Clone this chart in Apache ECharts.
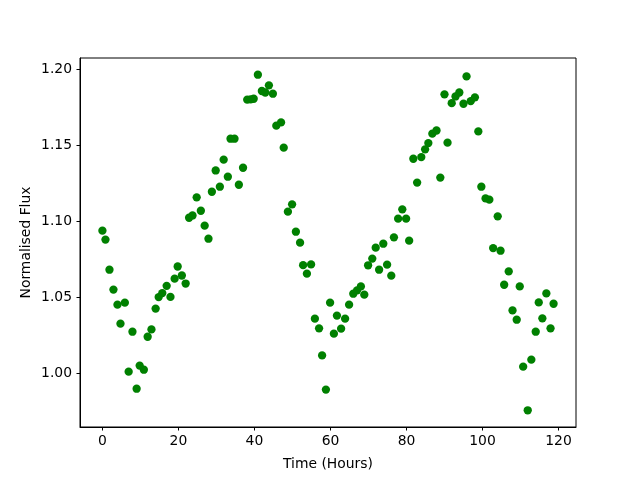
<!DOCTYPE html>
<html>
<head>
<meta charset="utf-8">
<script src="https://cdn.jsdelivr.net/npm/echarts@6/dist/echarts.min.js"></script>
<style>
  html, body { margin: 0; padding: 0; background: #fff; }
  #chart { width: 640px; height: 480px; }
</style>
</head>
<body>
<div id="chart"></div>
<script>
// time of each sample (hours)
var timeHours = [
    0, 0.8, 1.85, 2.9, 3.96, 4.75, 5.9, 6.9, 7.9, 9.0,
    9.8, 10.9, 11.9, 12.9, 14.0, 14.8, 15.75, 16.9, 17.9, 19.0,
    19.8, 20.9, 21.9, 22.8, 23.7, 24.8, 25.9, 26.9, 27.9, 28.8,
    29.8, 30.9, 31.9, 33.0, 33.7, 34.75, 35.9, 37.0, 38.1, 39.0,
    39.8, 40.9, 41.95, 42.85, 43.8, 44.85, 45.75, 47.0, 47.7, 48.8,
    49.9, 50.9, 52.0, 52.8, 53.8, 54.9, 55.9, 57.0, 57.8, 58.8,
    59.9, 60.9, 61.7, 62.8, 63.85, 64.9, 66.0, 67.0, 68.0, 68.9,
    69.9, 71.0, 71.9, 72.8, 73.9, 74.9, 76.0, 76.7, 77.8, 78.9,
    79.9, 80.7, 81.8, 82.8, 83.9, 84.9, 85.75, 86.8, 87.9, 88.9,
    90.0, 90.8, 91.9, 92.9, 93.9, 95.0, 95.8, 96.9, 98.0, 98.9,
    99.7, 100.8, 101.8, 102.8, 104.0, 104.75, 105.7, 106.9, 107.9, 109.0,
    109.8, 110.7, 111.9, 112.85, 114.0, 114.8, 115.75, 116.8, 117.9, 118.7
];
// normalised flux for each sample
var flux = [
    1.0941, 1.0882, 1.0684, 1.0553, 1.0454, 1.0329, 1.0467, 1.0013, 1.0276, 0.9901,
    1.0053, 1.0026, 1.0243, 1.0291, 1.0428, 1.0504, 1.0530, 1.0578, 1.0505, 1.0625,
    1.0705, 1.0646, 1.0593, 1.1026, 1.1041, 1.1160, 1.1072, 1.0974, 1.0888, 1.1197,
    1.1337, 1.1230, 1.1408, 1.1296, 1.1546, 1.1546, 1.1243, 1.1355, 1.1803, 1.1805,
    1.1809, 1.1967, 1.1860, 1.1850, 1.1897, 1.1842, 1.1632, 1.1653, 1.1487, 1.1066,
    1.1114, 1.0934, 1.0862, 1.0714, 1.0658, 1.0719, 1.0362, 1.0298, 1.0120, 0.9895,
    1.0467, 1.0263, 1.0382, 1.0296, 1.0362, 1.0454, 1.0526, 1.0548, 1.0574, 1.0520,
    1.0713, 1.0757, 1.0829, 1.0684, 1.0855, 1.0717, 1.0645, 1.0897, 1.1020, 1.1081,
    1.1020, 1.0875, 1.1414, 1.1257, 1.1425, 1.1476, 1.1517, 1.1579, 1.1600, 1.1290,
    1.1838, 1.1520, 1.1780, 1.1824, 1.1850, 1.1776, 1.1956, 1.1793, 1.1818, 1.1594,
    1.1230, 1.1153, 1.1145, 1.0826, 1.1035, 1.0809, 1.0585, 1.0673, 1.0416, 1.0355,
    1.0574, 1.0046, 0.9759, 1.0092, 1.0276, 1.0469, 1.0364, 1.0528, 1.0298, 1.0460
];
var xTicks = [0, 20, 40, 60, 80, 100, 120];
var yTicks = [1.00, 1.05, 1.10, 1.15, 1.20];

var points = [];
for (var i = 0; i < timeHours.length; i++) {
    points.push([timeHours[i], flux[i]]);
}

var font = 'DejaVu Sans';
var myChart = echarts.init(document.getElementById('chart'), null, {renderer: 'canvas'});
myChart.setOption({
    animation: false,
    backgroundColor: '#fff',
    grid: {
        left: 80, right: 64, top: 58, bottom: 53,
        show: true, borderColor: '#000', borderWidth: 1
    },
    xAxis: {
        type: 'value',
        min: -5.9, max: 124.6,
        name: 'Time (Hours)',
        nameLocation: 'middle',
        nameGap: 30,
        nameMoveOverlap: false,
        nameTextStyle: {fontFamily: font, fontSize: 13.9, color: '#000'},
        axisLine: {show: true, onZero: false, lineStyle: {color: '#000', width: 1}},
        axisTick: {show: true, length: 3.5, lineStyle: {color: '#000'}, customValues: xTicks},
        axisLabel: {fontFamily: font, fontSize: 13.9, color: '#000', margin: 7,
            customValues: xTicks, formatter: function (v) { return String(v); }},
        splitLine: {show: false}
    },
    yAxis: {
        type: 'value',
        min: 0.9649, max: 1.2077,
        name: 'Normalised Flux',
        nameLocation: 'middle',
        nameRotate: 90,
        nameGap: 47,
        nameMoveOverlap: false,
        nameTextStyle: {fontFamily: font, fontSize: 13.9, color: '#000'},
        axisLine: {show: true, onZero: false, lineStyle: {color: '#000', width: 1}},
        axisTick: {show: true, length: 3.5, lineStyle: {color: '#000'}, customValues: yTicks},
        axisLabel: {fontFamily: font, fontSize: 13.9, color: '#000', margin: 8,
            customValues: yTicks, formatter: function (v) { return v.toFixed(2); }},
        splitLine: {show: false}
    },
    series: [{
        type: 'scatter',
        data: points,
        symbol: 'circle',
        symbolSize: 8.3,
        itemStyle: {color: '#008000', opacity: 1}
    }]
});
</script>
</body>
</html>
